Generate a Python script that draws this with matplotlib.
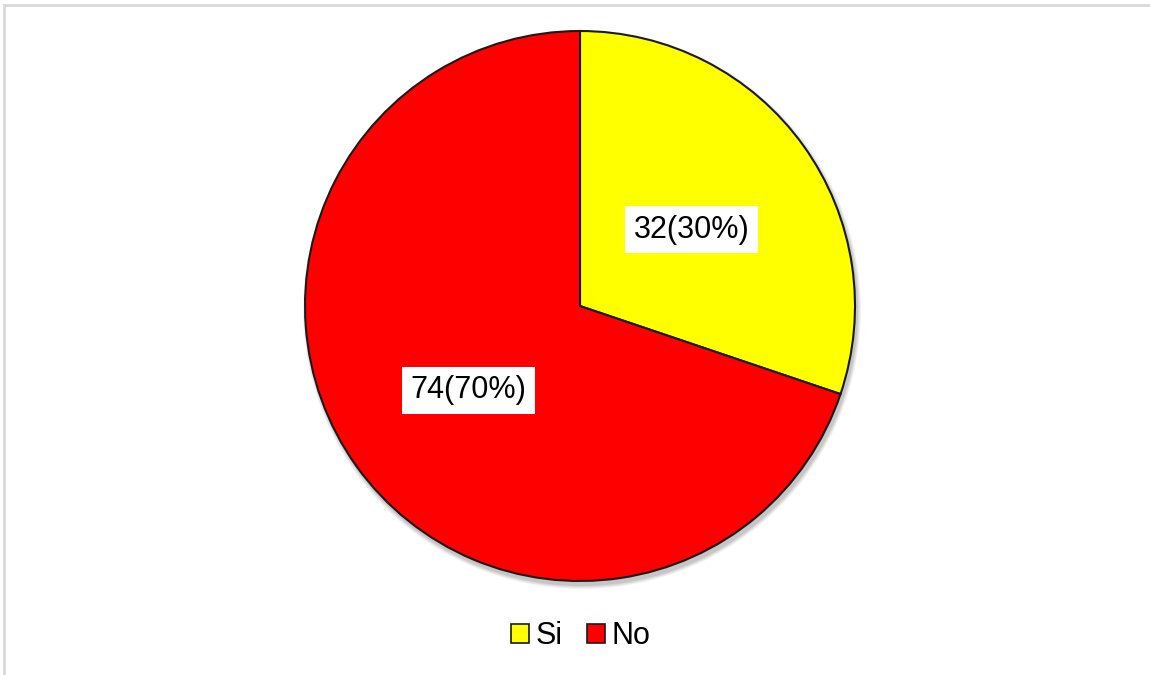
from matplotlib import pyplot as plt
from matplotlib.patches import Circle, Rectangle, Patch

labels = ['Si', 'No']
counts = [32, 74]
colors = ['#FFFF00', '#FF0000']

plt.rcParams['font.family'] = ['Liberation Sans', 'DejaVu Sans']

W, H = 1150, 675
cx, cy, r = 580, H - 306, 275


def label_text(pct):
    # counts with their share, e.g. "32(30%)"
    n = round(pct * sum(counts) / 100)
    return '{}({:.0f}%)'.format(n, pct)


def main():
    fig = plt.figure(figsize=(W / 100, H / 100), dpi=100)
    ax = fig.add_axes([0, 0, 1, 1])

    # soft drop shadow under the pie
    for i, a in enumerate([0.05, 0.05, 0.06, 0.08]):
        ax.add_patch(Circle((cx + 2, cy - 4), r + 4 - i, color='black',
                            alpha=a, lw=0, zorder=0))

    wedges, _, autotexts = ax.pie(
        counts, colors=colors, startangle=90, counterclock=False,
        center=(cx, cy), radius=r, autopct=label_text, pctdistance=0.5,
        wedgeprops=dict(edgecolor='#1a1a1a', linewidth=1.5),
        textprops=dict(fontsize=22, color='black'), frame=True)
    for t in autotexts:
        t.set_y(t.get_position()[1] - 4)
        t.set_bbox(dict(facecolor='white', edgecolor='none',
                        boxstyle='square,pad=0.28'))
    ax.set_xlim(0, W)
    ax.set_ylim(0, H)
    ax.set_aspect('equal')
    ax.axis('off')

    # chart area border
    ax.add_patch(Rectangle((3.5, -20), W + 20, H - 4.5 + 20, fill=False,
                           edgecolor='#D9D9D9', linewidth=2, zorder=0))

    handles = [Patch(facecolor=c, edgecolor='#1a1a1a', linewidth=1.2)
               for c in colors]
    fig.legend(handles, labels, loc='center', bbox_to_anchor=(0.505, 1 - 636 / H),
               ncol=2, frameon=False, fontsize=22, handlelength=0.6,
               handleheight=0.6, handletextpad=0.2, columnspacing=0.8)

    fig.savefig('out.png', dpi=100)


if __name__ == '__main__':
    main()
